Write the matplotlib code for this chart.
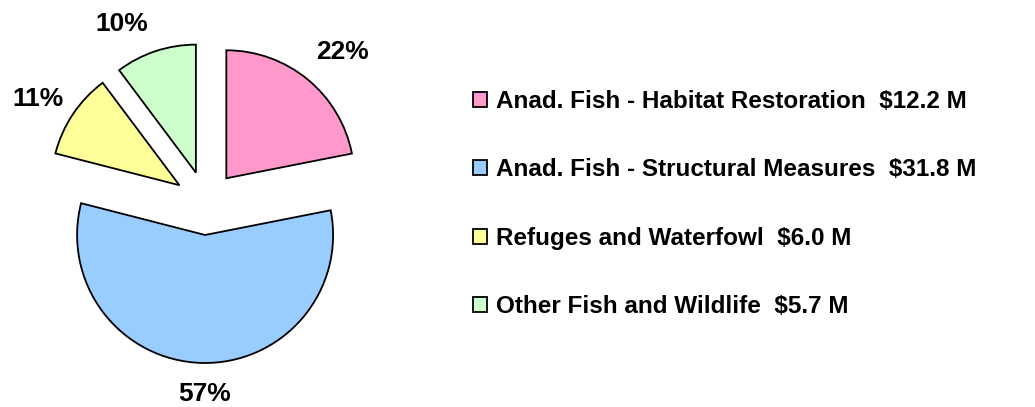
import numpy as np
import matplotlib
matplotlib.use('agg')
import matplotlib.pyplot as plt

categories = ['Anad. Fish - Habitat Restoration', 'Anad. Fish - Structural Measures',
              'Refuges and Waterfowl', 'Other Fish and Wildlife']
amounts = [12.2, 31.8, 6.0, 5.7]
colors = ['#FF99CC', '#99CCFF', '#FFFF99', '#CCFFCC']

plt.rcParams['font.family'] = ['Liberation Sans', 'DejaVu Sans']
plt.rcParams['font.weight'] = 'bold'

fig = plt.figure(figsize=(10.35, 4.07), dpi=100)
W, H = 1035, 407
cx, cy, r = 206, 203, 128
ax = fig.add_axes([(cx - r) / W, (H - cy - r) / H, 2 * r / W, 2 * r / H])

wedges, texts, autotexts = ax.pie(amounts, colors=colors, explode=[0.25] * 4,
                                  startangle=90, counterclock=False,
                                  autopct='%1.0f%%', pctdistance=1.33,
                                  wedgeprops=dict(edgecolor='black', linewidth=1.3),
                                  textprops=dict(fontsize=19, fontweight='bold'))
ax.set_xlim(-1, 1)
ax.set_ylim(-1, 1)
ax.set_aspect('equal')
for w in wedges:
    w.set_clip_on(False)

# nudge the percent labels (pixels, x right / y down) to where the original puts them
nudges = [(8, 5), (4, -11), (0, 8), (-20, 13)]
for t, (dx, dy) in zip(autotexts, nudges):
    x, y = t.get_position()
    t.set_position((x + dx / r, y - dy / r))
    t.set_clip_on(False)

labels = [f'{c}  ${a:.1f} M'.replace('$', r'\$') for c, a in zip(categories, amounts)]
fig.legend(wedges, labels, loc='upper left', bbox_to_anchor=(473 / W, 1 - 90 / H),
           frameon=False, borderpad=0, borderaxespad=0,
           handlelength=0.58, handleheight=0.58,
           handletextpad=0.37, labelspacing=1.87, prop=dict(weight='bold', size=17.5))

fig.savefig('out.png', dpi=100)
